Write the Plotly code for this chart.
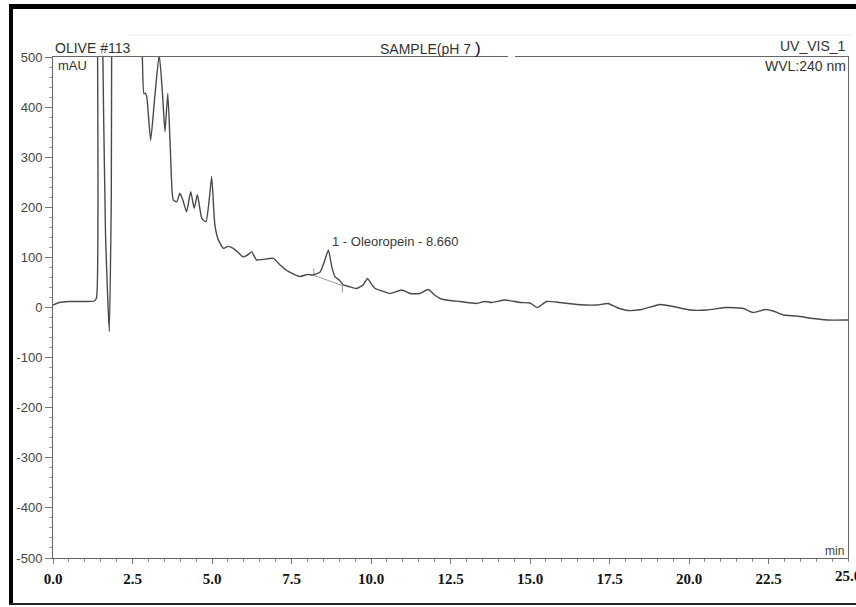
import plotly.graph_objects as go

# Retention time (min) and absorbance (mAU)
time_min = [0.0, 0.2, 0.5, 1.0, 1.3, 1.37, 1.40, 1.47, 1.55, 1.65, 1.77, 1.83, 1.90,
            2.3, 2.75, 2.81, 2.86, 2.90, 2.95, 3.07, 3.20, 3.34, 3.45, 3.52, 3.61,
            3.70, 3.78, 3.89, 3.99, 4.08, 4.20, 4.33, 4.44, 4.54, 4.68, 4.81, 4.92,
            4.99, 5.09, 5.20, 5.36, 5.50, 5.67, 5.85, 5.98, 6.10, 6.25, 6.40, 6.60,
            6.93, 7.14, 7.40, 7.77, 8.00, 8.19, 8.40, 8.55, 8.66, 8.77, 8.87, 9.00,
            9.13, 9.30, 9.55, 9.75, 9.89, 10.00, 10.13, 10.40, 10.60, 10.97, 11.23,
            11.54, 11.80, 12.00, 12.17, 12.48, 12.80, 13.32, 13.58, 13.80, 14.21,
            14.69, 15.00, 15.23, 15.52, 15.94, 16.47, 17.10, 17.46, 17.73, 18.09,
            18.51, 19.09, 19.51, 20.03, 20.56, 21.18, 21.71, 22.02, 22.39, 22.65,
            22.97, 23.39, 23.91, 24.33, 25.0]
absorb_mau = [5, 10, 12, 12, 13, 20, 600, 1500, 600, 150, -48, 200, 900,
              1200, 900, 500, 427, 428, 420, 334, 420, 505, 420, 351, 427,
              300, 215, 211, 228, 215, 191, 231, 198, 225, 178, 171, 220,
              261, 165, 135, 118, 122, 118, 108, 101, 104, 111, 95, 96,
              98, 85, 72, 62, 66, 65, 71, 95, 115, 80, 61, 55,
              45, 42, 38, 45, 58, 48, 38, 32, 28, 35, 28,
              28, 36, 25, 18, 14, 12, 8, 12, 10, 15,
              10, 9, 0, 12, 10, 6, 5, 8, 0, -6,
              -4, 6, 2, -5, -5, 0, -2, -10, -4, -7,
              -15, -17, -22, -25, -25]

# Integration baseline under the Oleuropein peak
base_t = [8.2, 8.2, 8.2, 9.1, 9.1, 9.1]
base_v = [78, 64, 64, 44, 44, 30]

peak_label = "1 - Oleoropein - 8.660"
peak_label_t = 8.72
peak_label_v = 131

x_ticks = [0.0, 2.5, 5.0, 7.5, 10.0, 12.5, 15.0, 17.5, 20.0, 22.5, 25.0]
y_ticks = [500, 400, 300, 200, 100, 0, -100, -200, -300, -400, -500]

fig = go.Figure()
fig.add_trace(go.Scatter(x=base_t, y=base_v, mode="lines",
                         line=dict(color="#9a9a9a", width=1), hoverinfo="skip"))
fig.add_trace(go.Scatter(x=time_min, y=absorb_mau, mode="lines",
                         line=dict(color="#4a4a4a", width=1.4, shape="spline", smoothing=0.5)))

fig.add_annotation(x=peak_label_t, y=peak_label_v, text=peak_label, showarrow=False,
                   xanchor="left", yanchor="middle",
                   font=dict(family="Liberation Sans, Arial", size=13, color="#3a3a3a"))

hdr_font = dict(family="Liberation Sans, Arial", size=14, color="#333333")
fig.add_annotation(x=0, y=1, xref="paper", yref="paper", text="OLIVE #113",
                   showarrow=False, xanchor="left", yanchor="bottom", yshift=-1, font=hdr_font)
fig.add_annotation(x=0.004, y=1, xref="paper", yref="paper", text="mAU",
                   showarrow=False, xanchor="left", yanchor="top", yshift=1,
                   font=dict(family="Liberation Sans, Arial", size=13, color="#333333"))
fig.add_annotation(x=0.409, y=1, xref="paper", yref="paper",
                   text="SAMPLE(pH 7 <span style='color:#0a0a40;font-size:17px'>)</span>",
                   showarrow=False, xanchor="left", yanchor="bottom", yshift=-3, font=hdr_font)
fig.add_annotation(x=1, y=1, xref="paper", yref="paper", text="UV_VIS_1",
                   showarrow=False, xanchor="right", yanchor="bottom", yshift=1, font=hdr_font)
fig.add_annotation(x=1, y=1, xref="paper", yref="paper", text="WVL:240 nm",
                   showarrow=False, xanchor="right", yanchor="top", yshift=1, font=hdr_font)
fig.add_annotation(x=0.997, y=0, xref="paper", yref="paper", text="min",
                   showarrow=False, xanchor="right", yanchor="bottom", yshift=-2,
                   font=dict(family="Liberation Sans, Arial", size=12, color="#444444"))
# last x tick label (cut off by the page edge in the original)
fig.add_annotation(x=x_ticks[-1], y=0, xref="x", yref="paper", text=f"{x_ticks[-1]:.1f}",
                   showarrow=False, xanchor="center", yanchor="top", yshift=-8,
                   font=dict(family="Liberation Serif, Times New Roman", size=15,
                             color="#111111", weight="bold"))

# Page frame (scanned figure border)
pw = 795.0
ph = 501.0
def px_x(p):
    return (p - 53) / pw
def px_y(p):
    return (558 - p) / ph

fig.add_shape(type="line", xref="paper", yref="paper", x0=px_x(11), x1=px_x(11),
              y0=px_y(5), y1=px_y(605), line=dict(color="black", width=4))
fig.add_shape(type="line", xref="paper", yref="paper", x0=px_x(9), x1=px_x(856),
              y0=px_y(6.5), y1=px_y(6.5), line=dict(color="black", width=5))
fig.add_shape(type="line", xref="paper", yref="paper", x0=px_x(9), x1=px_x(856),
              y0=px_y(604), y1=px_y(604), line=dict(color="#222222", width=2))
# gap in the top line
fig.add_shape(type="line", xref="paper", yref="paper", x0=px_x(508), x1=px_x(515),
              y0=1, y1=1, line=dict(color="white", width=3))
# faint scan line above the header
fig.add_shape(type="line", xref="paper", yref="paper", x0=px_x(130), x1=px_x(852),
              y0=px_y(35), y1=px_y(35), line=dict(color="#ececec", width=1))

fig.update_layout(
    width=856, height=607,
    margin=dict(l=53, r=8, t=57, b=49),
    paper_bgcolor="white", plot_bgcolor="white",
    showlegend=False,
)
fig.update_xaxes(range=[0, 25], tickvals=x_ticks[:-1],
                 ticktext=[f"{v:.1f}" for v in x_ticks[:-1]],
                 showgrid=False, zeroline=False,
                 showline=True, linecolor="#666666", linewidth=1, mirror=True,
                 ticks="outside", ticklen=5, tickcolor="#777777",
                 minor=dict(dtick=0.5, ticks="outside", ticklen=3, tickcolor="#888888"),
                 tickfont=dict(family="Liberation Serif, Times New Roman", size=15,
                               color="#111111", weight="bold"),
                 ticklabelstandoff=2)
fig.update_yaxes(range=[-500, 500], tickvals=y_ticks,
                 ticktext=[str(v) for v in y_ticks],
                 showgrid=False, zeroline=False,
                 showline=True, linecolor="#666666", linewidth=1, mirror=True,
                 ticks="outside", ticklen=7, tickcolor="#777777",
                 minor=dict(dtick=20, ticks="outside", ticklen=3, tickcolor="#999999"),
                 tickfont=dict(family="Liberation Sans, Arial", size=13, color="#444444"),
                 ticklabelstandoff=0)

fig.write_html("out.html")
